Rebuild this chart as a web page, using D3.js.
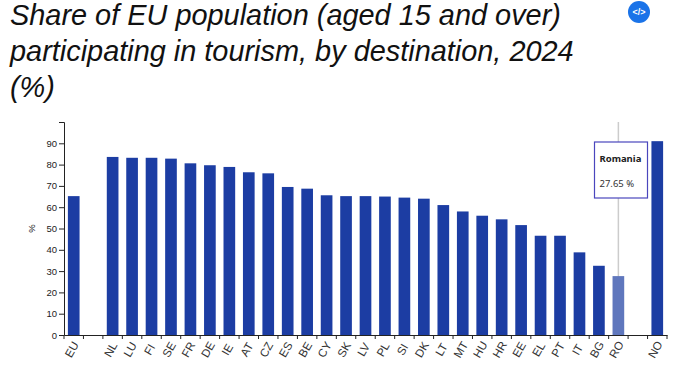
<!DOCTYPE html>
<html>
<head>
<meta charset="utf-8">
<script src="https://cdn.jsdelivr.net/npm/d3@7"></script>
<style>
  html, body { margin: 0; padding: 0; background: #fff; overflow: hidden; }
  #chart text { font-family: "Liberation Sans", Arial, sans-serif; }
  #chart .tip text { font-family: "Noto Sans", sans-serif; }
</style>
</head>
<body>
<div id="chart"></div>
<script>
// Data (blank categories are the gaps in the axis)
const categories = ["EU", "gap1", "NL", "LU", "FI", "SE", "FR", "DE", "IE", "AT", "CZ", "ES", "BE", "CY", "SK", "LV", "PL", "SI", "DK", "LT", "MT", "HU", "HR", "EE", "EL", "PT", "IT", "BG", "RO", "gap2", "NO"];
const values = [65.2, null, 83.6, 83.2, 83.2, 82.8, 80.6, 79.7, 78.9, 76.4, 75.9, 69.5, 68.7, 65.6, 65.2, 65.2, 65, 64.5, 64, 61, 58, 56, 54.3, 51.6, 46.6, 46.6, 38.8, 32.5, 27.65, null, 91];
const yTicks = [0, 10, 20, 30, 40, 50, 60, 70, 80, 90];
const titleLines = ["Share of EU population (aged 15 and over)", "participating in tourism, by destination, 2024", "(%)"];
const highlighted = "RO";
const tooltipName = "Romania";
const tooltipValue = "27.65 %";

function init() {
  const width = 700, height = 386;
  const margin = { top: 122, right: 33, bottom: 51, left: 64 };
  const innerWidth = width - margin.left - margin.right;
  const innerHeight = height - margin.top - margin.bottom;

  const svg = d3.select("#chart")
    .append("svg")
      .attr("width", width)
      .attr("height", height)
      .style("display", "block");

  // Title
  svg.append("g")
    .selectAll("text")
    .data(titleLines)
    .join("text")
      .attr("x", 10)
      .attr("y", (d, i) => 25 + i * 36)
      .attr("font-size", "28.9px")
      .attr("font-style", "italic")
      .attr("fill", "#111")
      .text(d => d);

  // Embed button top right
  const button = svg.append("g").attr("transform", "translate(639,12)");
  button.append("circle").attr("r", 11).attr("fill", "#1a73e8");
  button.append("text")
    .attr("text-anchor", "middle")
    .attr("y", 3)
    .attr("font-size", "9px")
    .attr("font-weight", "bold")
    .attr("fill", "#fff")
    .text("</>");

  const g = svg.append("g")
    .attr("transform", `translate(${margin.left},${margin.top})`);

  // Scales
  const xScale = d3.scaleBand()
    .domain(categories)
    .range([0, innerWidth])
    .paddingInner(0.4)
    .paddingOuter(0.2);

  const yScale = d3.scaleLinear()
    .domain([0, 100])
    .range([innerHeight, 0]);

  // Guide line behind the hovered bar
  g.append("line")
    .attr("x1", xScale(highlighted) + xScale.bandwidth() / 2)
    .attr("x2", xScale(highlighted) + xScale.bandwidth() / 2)
    .attr("y1", 0)
    .attr("y2", innerHeight)
    .attr("stroke", "#ccc")
    .attr("stroke-width", 1.5);

  // Bars
  g.selectAll(".bar")
    .data(categories.map((c, i) => ({ c, v: values[i] })).filter(d => d.v !== null))
    .join("rect")
      .attr("class", "bar")
      .attr("x", d => xScale(d.c))
      .attr("y", d => yScale(d.v))
      .attr("width", xScale.bandwidth())
      .attr("height", d => innerHeight - yScale(d.v))
      .attr("fill", d => d.c === highlighted ? "#5f77bd" : "#1c3da3");

  // x axis, ticks sit on the band edges
  const xAxis = g.append("g")
    .attr("transform", `translate(0,${innerHeight})`)
    .call(d3.axisBottom(xScale).tickSize(0).tickPadding(0).tickFormat(d => d.startsWith("gap") ? "" : d));
  xAxis.select(".domain").attr("stroke", "#222");
  xAxis.selectAll(".tick text")
    .attr("transform", "translate(-2,14.5) rotate(-60)")
    .attr("text-anchor", "middle")
    .attr("dy", "0.35em")
    .attr("font-size", "11.5px")
    .attr("fill", "#333");
  g.append("g")
    .attr("transform", `translate(0,${innerHeight})`)
    .selectAll("line")
    .data(d3.range(categories.length + 1))
    .join("line")
      .attr("x1", d => d * xScale.step())
      .attr("x2", d => d * xScale.step())
      .attr("y1", 0)
      .attr("y2", 4)
      .attr("stroke", "#222");

  // y axis
  const yAxis = g.append("g")
    .call(d3.axisLeft(yScale).tickValues(yTicks).tickSizeOuter(0).tickSize(5).tickPadding(2));
  yAxis.select(".domain").attr("stroke", "#222");
  yAxis.selectAll(".tick line").attr("stroke", "#222");
  yAxis.selectAll(".tick text").attr("font-size", "9.5px").attr("fill", "#222");

  g.append("text")
    .attr("transform", `translate(-29,${yScale(50)}) rotate(-90)`)
    .attr("text-anchor", "middle")
    .attr("font-size", "9.5px")
    .attr("fill", "#222")
    .text("%");

  // Tooltip box
  const tip = svg.append("g").attr("class", "tip").attr("transform", "translate(594.5,142)");
  tip.append("rect")
    .attr("width", 53)
    .attr("height", 56)
    .attr("fill", "#fff")
    .attr("stroke", "#4a46bd")
    .attr("stroke-width", 1.2);
  tip.append("text")
    .attr("x", 5)
    .attr("y", 20)
    .attr("font-size", "9.5px")
    .attr("font-weight", "bold")
    .attr("fill", "#222")
    .text(tooltipName);
  tip.append("text")
    .attr("x", 5)
    .attr("y", 45)
    .attr("font-size", "9.5px")
    .attr("fill", "#333")
    .text(tooltipValue);
}

window.onload = init;
</script>
</body>
</html>
